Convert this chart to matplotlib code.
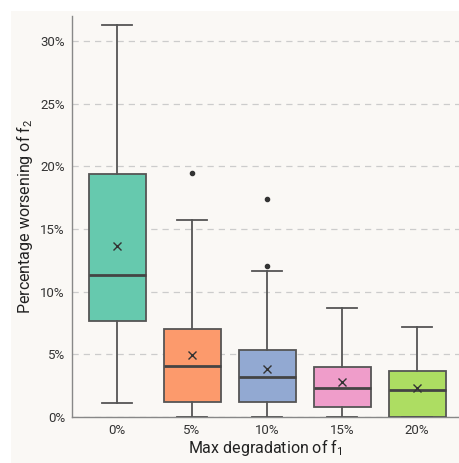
import matplotlib
matplotlib.use("Agg")
import matplotlib.pyplot as plt
from matplotlib.patches import Rectangle
from matplotlib.ticker import FuncFormatter

plt.rcParams["font.family"] = ["Roboto", "DejaVu Sans"]
plt.rcParams["mathtext.fontset"] = "custom"
plt.rcParams["mathtext.rm"] = "Roboto"

# values in percent
categories = ["0%", "5%", "10%", "15%", "20%"]
whisker_low = [1.14, 0.0, 0.0, 0.0, 0.0]
q1 = [7.63, 1.22, 1.22, 0.77, 0.0]
median = [11.3, 4.07, 3.22, 2.31, 2.18]
q3 = [19.41, 7.0, 5.37, 3.99, 3.67]
whisker_high = [31.28, 15.7, 11.63, 8.70, 7.21]
mean = [13.67, 4.92, 3.80, 2.77, 2.34]
fliers = [[], [19.47], [17.37, 12.05], [], []]
colors = ["#66c9ae", "#fc9a6c", "#92a9d2", "#ef9dca", "#addd62"]

bg = "#faf8f5"
edge = "#555555"

fig = plt.figure(figsize=(4.59, 4.63), dpi=100, facecolor="white")
fig.patches.append(Rectangle((11 / 459, 0), 1, 1 - 11 / 463, transform=fig.transFigure,
                             facecolor=bg, edgecolor="none", zorder=-10))
ax = fig.add_axes([72 / 459, 46 / 463, 387 / 459, 401 / 463])
ax.set_facecolor(bg)

stats = []
for i, name in enumerate(categories):
    stats.append({
        "label": name,
        "whislo": whisker_low[i],
        "q1": q1[i],
        "med": median[i],
        "q3": q3[i],
        "whishi": whisker_high[i],
        "mean": mean[i],
        "fliers": fliers[i],
    })

bp = ax.bxp(
    stats,
    positions=range(len(categories)),
    widths=0.76,
    patch_artist=True,
    showmeans=True,
    boxprops=dict(edgecolor=edge, linewidth=1.3),
    whiskerprops=dict(color=edge, linewidth=1.3),
    capprops=dict(color=edge, linewidth=1.3),
    medianprops=dict(color="#444444", linewidth=2.0),
    meanprops=dict(marker="x", markeredgecolor="#333333", markersize=6, markeredgewidth=1.0),
    flierprops=dict(marker="o", markerfacecolor="#333333", markeredgecolor="#333333", markersize=3),
    capwidths=0.4,
    zorder=3,
)
for patch, c in zip(bp["boxes"], colors):
    patch.set_facecolor(c)

ax.set_xlim(-0.6, 4.56)
ax.set_ylim(0, 32)
ax.set_yticks([0, 5, 10, 15, 20, 25, 30])
ax.yaxis.set_major_formatter(FuncFormatter(lambda v, p: f"{v:.0f}%"))
ax.yaxis.grid(True, linestyle=(0, (5, 4)), color="#cccccc", linewidth=0.9, zorder=0)
ax.set_axisbelow(True)
ax.tick_params(length=0, labelsize=9.5, labelcolor="#333333")
ax.tick_params(axis="y", pad=5)
ax.tick_params(axis="x", pad=5)

for side in ["top", "right"]:
    ax.spines[side].set_visible(False)
for side in ["left", "bottom"]:
    ax.spines[side].set_color("#888888")
    ax.spines[side].set_linewidth(1.0)

ax.set_xlabel(r"Max degradation of f$_\mathregular{1}$", fontsize=11.5, color="#222222", labelpad=0)
ax.set_ylabel(r"Percentage worsening of f$_\mathregular{2}$", fontsize=11.5, color="#222222", labelpad=4)

fig.savefig("out.png", dpi=100, facecolor=fig.get_facecolor())
